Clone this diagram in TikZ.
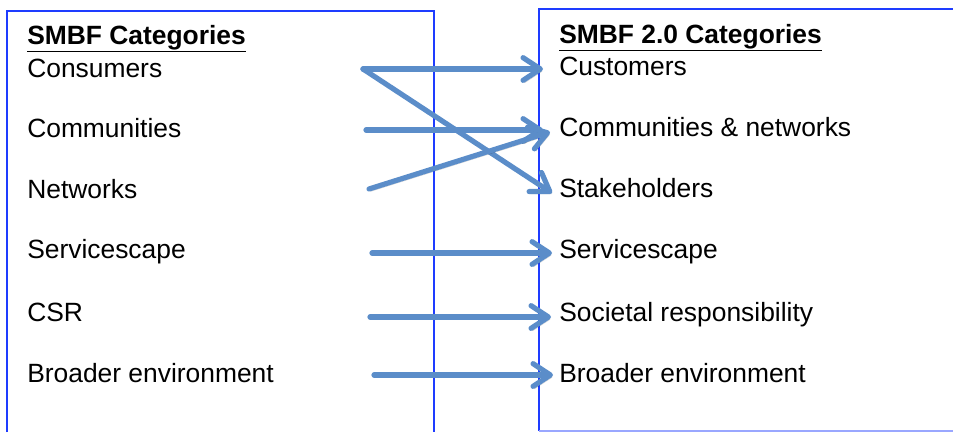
\documentclass[tikz,border=0pt]{standalone}
\usepackage{fontspec}
\setmainfont{Liberation Sans}
\usepackage{tikz}
\usetikzlibrary{arrows.meta}
\usetikzlibrary{calc}

\begin{document}
\begin{tikzpicture}[x=0.75pt,y=-0.75pt]
        \tikzset{>={Straight Barb[round,length=13pt,width=17pt]}}
        \tikzstyle{every node}=[anchor=base west,inner sep=0pt,text=black,font=\fontsize{19.8}{24}\selectfont]
        \tikzstyle{link}=[->,line width=3.9pt,draw=linkcolor,line cap=round,line join=round,
            preaction={draw=black,opacity=0.18,transform canvas={shift={(1.2pt,-1.8pt)}}}]

        \definecolor{boxcolor}{HTML}{1E3CFF}
        \definecolor{linkcolor}{HTML}{5B8DC9}
        \useasboundingbox (0,0) rectangle (953,432);

        % the two frames
        \draw [boxcolor, line width=1.5pt] (7,432) -- (7,11) -- (434,11) -- (434,432);
        \draw [boxcolor, line width=1.5pt] (953,9) -- (539,9) -- (539,431);
        \draw [boxcolor!45, line width=1.2pt] (539,431) -- (953,431);

        % old categories
        \node (l0) at (27,44) {\underline{\textbf{SMBF Categories}}};
        \node (l1) at (27,77) {Consumers};
        \node (l2) at (27,137) {Communities};
        \node (l3) at (27,198) {Networks};
        \node (l4) at (27,258) {Servicescape};
        \node (l5) at (27,321) {CSR};
        \node (l6) at (27,382) {Broader environment};

        % new categories
        \node (r0) at (559,43) {\underline{\textbf{SMBF 2.0 Categories}}};
        \node (r1) at (559,75) {Customers};
        \node (r2) at (559,136) {Communities \& networks};
        \node (r3) at (559,197) {Stakeholders};
        \node (r4) at (559,258) {Servicescape};
        \node (r5) at (559,321) {Societal responsibility};
        \node (r6) at (559,382) {Broader environment};

        % arrow tails
        \coordinate (t1) at (363,69);
        \coordinate (t2) at (366,130);
        \coordinate (t3) at (369,189);
        \coordinate (t4) at (372,253);
        \coordinate (t5) at (370,317);
        \coordinate (t6) at (374,375);

        \draw [link] (t1) -- ($(r1.base west)+(-16,-6)$);
        \draw [link] (t1) -- ($(r3.base west)+(-7,-4)$);
        \draw [link] (t2) -- ($(r2.base west)+(-16,-6)$);
        \draw [link] (t3) -- ($(r2.base west)+(-9,-4)$);
        \draw [link] (t4) -- ($(r4.base west)+(-7,-5)$);
        \draw [link] (t5) -- ($(r5.base west)+(-8,-4)$);
        \draw [link] (t6) -- ($(r6.base west)+(-6,-7)$);
\end{tikzpicture}
\end{document}
